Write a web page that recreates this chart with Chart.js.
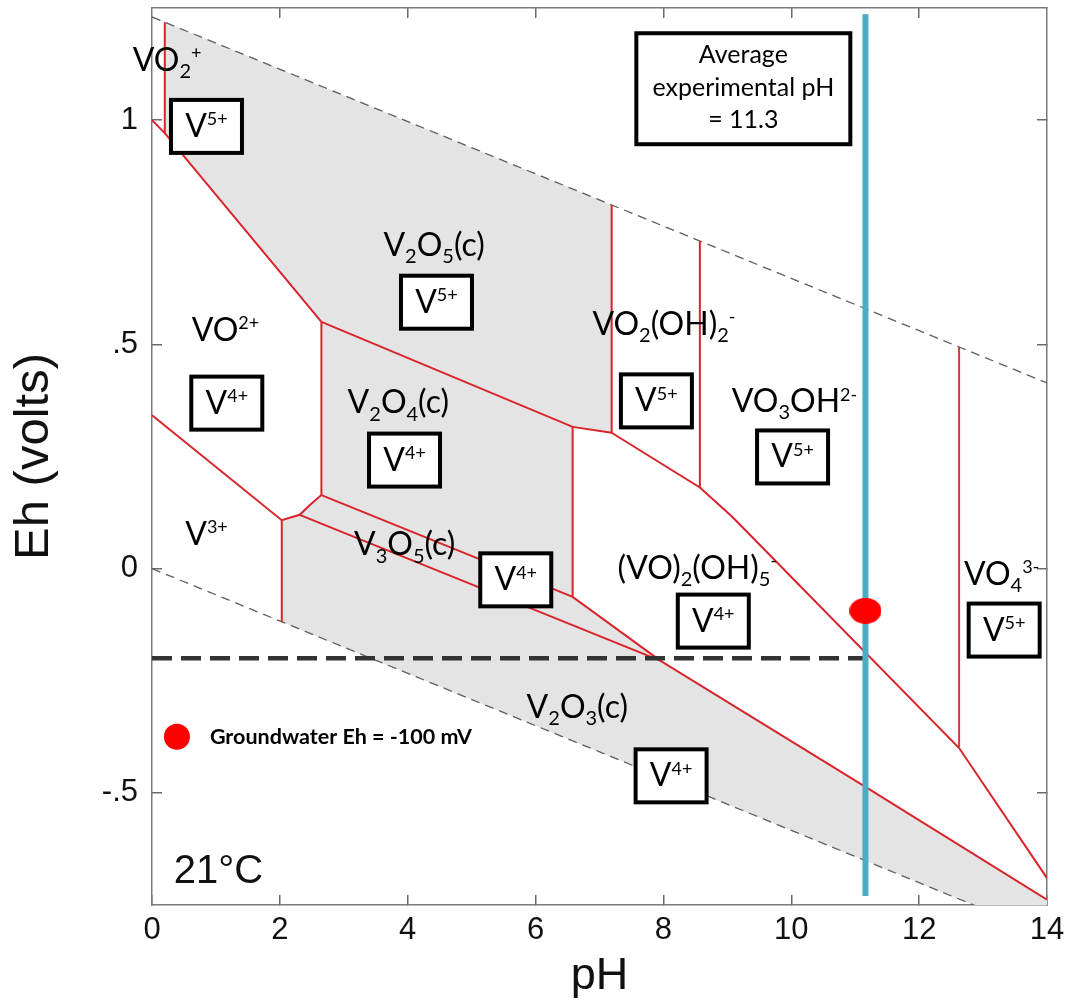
<!DOCTYPE html>
<html>
<head>
<meta charset="utf-8">
<title>Vanadium Eh-pH diagram</title>
<script src="https://cdn.jsdelivr.net/npm/chart.js@4.4.1/dist/chart.umd.min.js"></script>
<style>
  html, body { margin: 0; padding: 0; background: #fff; }
  canvas { display: block; }
</style>
</head>
<body>
<canvas id="pourbaix" width="1076" height="1004"></canvas>
<script>
// axes
var phTicks = [0, 2, 4, 6, 8, 10, 12, 14];
var phTopTicks = [2, 4, 6, 8, 10, 12];
var ehTicks = [-0.5, 0, 0.5, 1];
var ehTickLabels = ["-.5", "0", ".5", "1"];

// water stability limits, [pH, Eh]
var o2Limit = [[0, 1.23], [14, 0.414]];
var h2Limit = [[0, 0], [14, -0.817]];

// predominance boundaries, [pH, Eh]
var vo2Vertical = [[0.2, 1.218], [0.2, 0.971]];
var vo2PlusEdge = [[0, 1.0], [0.2, 0.971], [2.65, 0.55]];
var v2o5Base = [[2.65, 0.55], [6.58, 0.316], [7.19, 0.303]];
var v2o5Right = [[7.19, 0.811], [7.19, 0.303]];
var vo2oh2Right = [[8.57, 0.73], [8.57, 0.181]];
var vo3ohRight = [[12.625, 0.494], [12.625, -0.4]];
var v5v4Edge = [[7.19, 0.303], [8.57, 0.181], [9.08, 0.115], [12.625, -0.4], [14, -0.69]];
var v2o4Left = [[2.65, 0.55], [2.65, 0.164]];
var v2o4Right = [[6.58, 0.316], [6.58, -0.063]];
var v2o4Base = [[2.65, 0.164], [6.58, -0.063], [7.95, -0.205]];
var vo2V3Edge = [[0, 0.342], [2.03, 0.108], [2.31, 0.12], [2.47, 0.142], [2.65, 0.164]];
var v3Right = [[2.03, 0.108], [2.03, -0.119]];
var v3o5Base = [[2.31, 0.12], [7.95, -0.205], [11.11, -0.482], [14, -0.738]];

// solid phase fields (grey)
var v2o5Area = [[0.2, 1.218], [7.19, 0.811], [7.19, 0.303], [6.58, 0.316], [2.65, 0.55], [0.2, 0.971]];
var v2o4Area = [[2.65, 0.55], [6.58, 0.316], [6.58, -0.063], [2.65, 0.164]];
var v2o3Area = [[2.03, 0.108], [2.31, 0.12], [2.47, 0.142], [2.65, 0.164], [6.58, -0.063], [7.95, -0.205],
  [11.11, -0.482], [14, -0.738], [14, -0.817], [2.03, -0.119]];

// experiment
var avgPhLine = [[11.16, 1.236], [11.16, -0.73]];
var ehLevelLine = [[0, -0.2], [11.16, -0.2]];
var groundwaterPoint = [[11.16, -0.094]];
var legendPoint = [[0.39, -0.375]];

// text placed on the diagram (left edge / baseline, in pH and Eh)
var speciesLabels = [
  { text: "VO_2^+", at: [-0.3, 1.11] },
  { text: "V_2O_5(c)", at: [3.62, 0.697] },
  { text: "VO^{2+}", at: [0.62, 0.508] },
  { text: "V_2O_4(c)", at: [3.06, 0.346] },
  { text: "V^{3+}", at: [0.52, 0.053] },
  { text: "V_3O_5(c)", at: [3.16, 0.03] },
  { text: "VO_2(OH)_2^-", at: [6.89, 0.521] },
  { text: "VO_3OH^{2-}", at: [9.07, 0.349] },
  { text: "(VO)_2(OH)_5^-", at: [7.28, -0.023] },
  { text: "VO_4^{3-}", at: [12.7, -0.036] },
  { text: "V_2O_3(c)", at: [5.86, -0.333] }
];
// oxidation state boxes (centre)
var stateBoxes = [
  { text: "V^{5+}", at: [0.852, 0.986] },
  { text: "V^{5+}", at: [4.45, 0.594] },
  { text: "V^{4+}", at: [1.17, 0.369] },
  { text: "V^{4+}", at: [3.95, 0.242] },
  { text: "V^{4+}", at: [5.69, -0.025] },
  { text: "V^{5+}", at: [7.89, 0.374] },
  { text: "V^{5+}", at: [10.02, 0.249] },
  { text: "V^{4+}", at: [8.78, -0.117] },
  { text: "V^{5+}", at: [13.33, -0.137] },
  { text: "V^{4+}", at: [8.12, -0.462] }
];
var avgBox = { lines: ["Average", "experimental pH", "= 11.3"], at: [9.25, 1.07] };
var tempLabel = { text: "21\u00B0C", at: [0.34, -0.701] };
var legendLabel = { text: "Groundwater Eh = -100 mV", at: [0.906, -0.391] };

var LABEL_FONT = "Lato, 'Open Sans', sans-serif";
var AXIS_FONT = "'Liberation Sans', Arial, sans-serif";
var RED = "#d9242b";

function parseRich(s) {
  var parts = [], i = 0;
  while (i < s.length) {
    var c = s[i];
    if (c === "_" || c === "^") {
      var t;
      if (s[i + 1] === "{") {
        var j = s.indexOf("}", i);
        t = s.slice(i + 2, j);
        i = j + 1;
      } else {
        t = s[i + 1];
        i += 2;
      }
      parts.push({ t: t, k: c === "_" ? "sub" : "sup" });
    } else {
      var k = i;
      while (k < s.length && s[k] !== "_" && s[k] !== "^") k++;
      parts.push({ t: s.slice(i, k), k: "n" });
      i = k;
    }
  }
  return parts;
}

function drawRich(ctx, str, x, y, size, align) {
  var parts = parseRich(str);
  var sizes = { n: size, sub: Math.round(size * 0.63), sup: Math.round(size * 0.56) };
  var width = 0;
  parts.forEach(function (p) {
    ctx.font = sizes[p.k] + "px " + LABEL_FONT;
    p.w = ctx.measureText(p.t).width;
    width += p.w;
  });
  var cx = align === "center" ? x - width / 2 : x;
  parts.forEach(function (p) {
    ctx.font = sizes[p.k] + "px " + LABEL_FONT;
    var dy = p.k === "sub" ? size * 0.23 : p.k === "sup" ? -size * 0.36 : 0;
    ctx.fillText(p.t, cx, y + dy);
    cx += p.w;
  });
}

function ellipseMarker(w, h, color) {
  var c = document.createElement("canvas");
  c.width = w;
  c.height = h;
  var g = c.getContext("2d");
  g.fillStyle = color;
  g.beginPath();
  g.ellipse(w / 2, h / 2, w / 2, h / 2, 0, 0, Math.PI * 2);
  g.fill();
  return c;
}

var annotations = {
  id: "annotations",
  afterDatasetsDraw: function (chart) {
    var ctx = chart.ctx;
    var px = function (v) { return chart.scales.x.getPixelForValue(v); };
    var py = function (v) { return chart.scales.y.getPixelForValue(v); };
    ctx.save();
    ctx.textBaseline = "alphabetic";
    ctx.textAlign = "left";
    ctx.fillStyle = "#000";

    speciesLabels.forEach(function (l) {
      drawRich(ctx, l.text, px(l.at[0]), py(l.at[1]), 32, "left");
    });

    stateBoxes.forEach(function (b) {
      var x = px(b.at[0]), y = py(b.at[1]);
      ctx.fillStyle = "#fff";
      ctx.fillRect(x - 35.5, y - 26.5, 71, 53);
      ctx.lineWidth = 4;
      ctx.strokeStyle = "#000";
      ctx.strokeRect(x - 35.5, y - 26.5, 71, 53);
      ctx.fillStyle = "#000";
      drawRich(ctx, b.text, x, y + 10.5, 32, "center");
    });

    var ax = px(avgBox.at[0]), ay = py(avgBox.at[1]);
    ctx.fillStyle = "#fff";
    ctx.fillRect(ax - 107, ay - 55.5, 214, 111);
    ctx.lineWidth = 4;
    ctx.strokeStyle = "#000";
    ctx.strokeRect(ax - 107, ay - 55.5, 214, 111);
    ctx.fillStyle = "#000";
    ctx.textAlign = "center";
    ctx.font = "25px " + LABEL_FONT;
    avgBox.lines.forEach(function (line, i) {
      ctx.fillText(line, ax, ay + 7 + (i - 1) * 32.5);
    });

    ctx.textAlign = "left";
    ctx.font = "40px " + AXIS_FONT;
    ctx.fillStyle = "#111";
    ctx.fillText(tempLabel.text, px(tempLabel.at[0]), py(tempLabel.at[1]));

    ctx.font = "bold 21.5px " + LABEL_FONT;
    ctx.fillStyle = "#000";
    ctx.fillText(legendLabel.text, px(legendLabel.at[0]), py(legendLabel.at[1]));
    ctx.restore();
  }
};

function line(points, color, width, order, dash) {
  return {
    data: points,
    borderColor: color,
    borderWidth: width,
    borderDash: dash || [],
    pointRadius: 0,
    fill: false,
    order: order
  };
}

function area(points) {
  return {
    data: points,
    borderColor: "rgba(0,0,0,0)",
    borderWidth: 1,
    backgroundColor: "#e4e4e4",
    pointRadius: 0,
    fill: "shape",
    order: 9
  };
}

function fixSize(prop, value) {
  return function (scale) {
    scale[prop] = value;
    scale.paddingLeft = 0;
    scale.paddingRight = 0;
    scale.paddingTop = 0;
    scale.paddingBottom = 0;
  };
}

var frame = { display: true, color: "#7a7a7a", width: 1.5 };
var tickGrid = { drawOnChartArea: false, drawTicks: true, tickLength: -10, color: "#6a6a6a", lineWidth: 1.5 };

function draw() {
  var ctx = document.getElementById("pourbaix").getContext("2d");
  new Chart(ctx, {
    type: "line",
    data: {
      datasets: [
        area(v2o5Area),
        area(v2o4Area),
        area(v2o3Area),
        line(o2Limit, "#5e5e5e", 1.3, 6, [9, 6]),
        line(h2Limit, "#5e5e5e", 1.3, 6, [9, 6]),
        line(vo2Vertical, RED, 2, 5),
        line(vo2PlusEdge, RED, 2, 5),
        line(v2o5Base, RED, 2, 5),
        line(v2o5Right, RED, 2, 5),
        line(vo2oh2Right, RED, 2, 5),
        line(vo3ohRight, "#c8403f", 2, 5),
        line(v5v4Edge, RED, 2, 5),
        line(v2o4Left, RED, 2, 5),
        line(v2o4Right, RED, 2, 5),
        line(v2o4Base, RED, 2, 5),
        line(vo2V3Edge, RED, 2, 5),
        line(v3Right, RED, 2, 5),
        line(v3o5Base, RED, 2, 5),
        line(ehLevelLine, "#333333", 4.5, 3, [20, 9]),
        line(avgPhLine, "#4bacc6", 6, 2),
        {
          data: groundwaterPoint,
          showLine: false,
          pointStyle: ellipseMarker(32, 26, "#ff0000"),
          pointRadius: 16,
          order: 1
        },
        {
          data: legendPoint,
          showLine: false,
          pointStyle: "circle",
          pointRadius: 13,
          pointBackgroundColor: "#ff0000",
          pointBorderWidth: 0,
          order: 1
        }
      ]
    },
    options: {
      responsive: false,
      animation: false,
      events: [],
      layout: { autoPadding: false, padding: { top: 8, right: 29, left: 0, bottom: 0 } },
      plugins: {
        legend: { display: false },
        tooltip: { enabled: false },
        filler: { drawTime: "beforeDatasetsDraw" }
      },
      scales: {
        x: {
          type: "linear",
          position: "bottom",
          min: 0,
          max: 14,
          afterBuildTicks: function (s) { s.ticks = phTicks.map(function (v) { return { value: v }; }); },
          afterFit: fixSize("height", 99),
          border: frame,
          grid: tickGrid,
          ticks: { padding: 17, color: "#111", font: { family: AXIS_FONT, size: 31 }, maxRotation: 0 },
          title: { display: true, text: "pH", color: "#111", font: { family: AXIS_FONT, size: 45 }, padding: { top: 0, bottom: 0 } }
        },
        y: {
          type: "linear",
          position: "left",
          min: -0.75,
          max: 1.25,
          afterBuildTicks: function (s) { s.ticks = ehTicks.map(function (v) { return { value: v }; }); },
          afterFit: fixSize("width", 152),
          border: frame,
          grid: tickGrid,
          ticks: {
            padding: 24,
            color: "#111",
            font: { family: AXIS_FONT, size: 31 },
            callback: function (v) { return ehTickLabels[ehTicks.indexOf(v)]; }
          },
          title: { display: true, text: "Eh (volts)", color: "#111", font: { family: AXIS_FONT, size: 49 }, padding: { top: 5, bottom: 0 } }
        },
        x2: {
          type: "linear",
          position: "top",
          min: 0,
          max: 14,
          afterBuildTicks: function (s) { s.ticks = phTopTicks.map(function (v) { return { value: v }; }); },
          afterFit: fixSize("height", 0),
          border: frame,
          grid: tickGrid,
          ticks: { display: false }
        },
        y2: {
          type: "linear",
          position: "right",
          min: -0.75,
          max: 1.25,
          afterBuildTicks: function (s) { s.ticks = ehTicks.map(function (v) { return { value: v }; }); },
          afterFit: fixSize("width", 0),
          border: frame,
          grid: tickGrid,
          ticks: { display: false }
        }
      }
    },
    plugins: [annotations]
  });
}

if (document.fonts && document.fonts.load) {
  Promise.all([
    document.fonts.load("30px Lato"),
    document.fonts.load("bold 21px Lato"),
    document.fonts.load("31px 'Liberation Sans'")
  ]).then(draw, draw);
} else {
  draw();
}
</script>
</body>
</html>
